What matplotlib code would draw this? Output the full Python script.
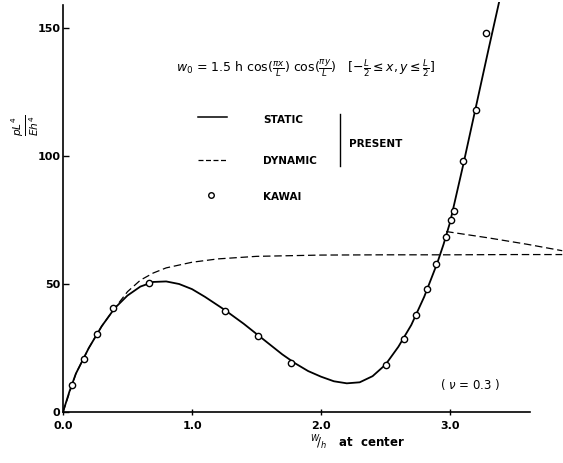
import matplotlib
matplotlib.use("Agg")
import matplotlib.pyplot as plt

# static solution (present)
static_x = [0.0, 0.05, 0.1, 0.2, 0.3, 0.4, 0.5, 0.6, 0.7, 0.8, 0.9, 1.0, 1.1, 1.25,
            1.4, 1.5, 1.6, 1.7, 1.8, 1.9, 2.0, 2.1, 2.2, 2.3, 2.4, 2.5, 2.6, 2.7,
            2.8, 2.9, 2.95, 3.0, 3.05, 3.1, 3.15, 3.2, 3.25, 3.3, 3.38]
static_y = [0.0, 8.0, 15.0, 25.0, 33.5, 40.5, 45.5, 49.0, 50.8, 51.0, 50.0, 48.0, 45.0, 40.0,
            34.5, 30.5, 26.5, 22.5, 19.0, 16.0, 13.8, 12.0, 11.2, 11.6, 14.0, 18.5, 25.5, 34.0,
            45.0, 58.0, 65.5, 74.0, 85.0, 96.0, 107.5, 119.0, 130.5, 142.0, 160.0]

# dynamic solution (present), main branch and upper branch
dyn_x = [0.0, 0.1, 0.2, 0.3, 0.4, 0.5, 0.6, 0.7, 0.8, 1.0, 1.2, 1.5, 2.0, 2.5, 3.0, 3.5, 3.87]
dyn_y = [0.0, 15.0, 25.0, 33.5, 40.5, 47.0, 51.5, 54.3, 56.3, 58.5, 59.8, 60.8, 61.3, 61.4, 61.4, 61.5, 61.5]
dyn2_x = [2.97, 3.3, 3.6, 3.87]
dyn2_y = [70.5, 68.0, 65.5, 63.0]

# Kawai results
kawai_x = [0.067, 0.163, 0.26, 0.385, 0.67, 1.256, 1.51, 1.77, 2.50, 2.64, 2.74,
           2.82, 2.89, 2.97, 3.01, 3.03, 3.10, 3.20, 3.28]
kawai_y = [10.5, 20.7, 30.5, 40.6, 50.5, 39.6, 29.7, 19.0, 18.4, 28.4, 37.9,
           48.0, 58.0, 68.5, 75.0, 78.6, 98.0, 118.0, 148.0]

xticks = [0.0, 1.0, 2.0, 3.0]
xtick_labels = ["0.0", "1.0", "2.0", "3.0"]
yticks = [0, 50, 100, 150]

plt.rcParams['mathtext.fontset'] = 'dejavusans'
W, H = 563, 463
fig = plt.figure(figsize=(W / 100, H / 100), dpi=100)


def px(x, y):
    # pixel position -> figure fraction
    return x / W, 1 - y / H


ax = fig.add_axes([63 / W, (H - 412) / H, 500 / W, 409.6 / H])
ax.set_xlim(0, 500 / 129)
ax.set_ylim(0, 160)

ax.plot(static_x, static_y, color='black', lw=1.3)
ax.plot(dyn_x, dyn_y, color='black', lw=0.9, dashes=(6, 3))
ax.plot(dyn2_x, dyn2_y, color='black', lw=0.9, dashes=(6, 3))
ax.plot(kawai_x, kawai_y, 'o', ms=4.5, mfc='white', mec='black', mew=1.0)

for s in ['top', 'right']:
    ax.spines[s].set_visible(False)
ax.spines['bottom'].set_bounds(0, 3.62)
ax.spines['left'].set_bounds(0, 159)
ax.spines['bottom'].set_linewidth(1.2)
ax.spines['left'].set_linewidth(1.2)

ax.set_xticks(xticks)
ax.set_xticklabels(xtick_labels, fontsize=8, fontweight='bold')
ax.set_yticks(yticks)
ax.set_yticklabels([str(v) for v in yticks], fontsize=8, fontweight='bold')
ax.tick_params(axis='x', direction='inout', length=5, width=1, pad=4)
ax.tick_params(axis='y', direction='in', length=4, width=1, pad=2)

# formula
fx, fy = px(176, 68)
fig.text(fx, fy, r'$w_0$ = 1.5 h cos($\frac{\pi x}{L}$) cos($\frac{\pi y}{L}$)   '
         r'[$-\frac{L}{2} \leq x, y \leq \frac{L}{2}$]',
         fontsize=9, va='center', ha='left')

# legend drawn by hand
lx0, ly = px(198, 117)
lx1, _ = px(227, 117)
fig.add_artist(plt.Line2D([lx0, lx1], [ly, ly], color='black', lw=1.1))
lx0, ly = px(198, 160)
lx1, _ = px(227, 160)
fig.add_artist(plt.Line2D([lx0, lx1], [ly, ly], color='black', lw=0.9, dashes=(4, 2)))
cx, cy = px(211, 195)
fig.add_artist(plt.Line2D([cx], [cy], marker='o', ms=4, mfc='white', mec='black', mew=1.0))

for label, ypx in [("STATIC", 120), ("DYNAMIC", 161), ("KAWAI", 197)]:
    tx, ty = px(263, ypx)
    fig.text(tx, ty, label, fontsize=7.5, fontweight='bold', va='center', ha='left')

bx, by0 = px(340, 114)
_, by1 = px(340, 166)
fig.add_artist(plt.Line2D([bx, bx], [by0, by1], color='black', lw=1.0))
tx, ty = px(349, 144)
fig.text(tx, ty, "PRESENT", fontsize=7.5, fontweight='bold', va='center', ha='left')

tx, ty = px(440, 385)
fig.text(tx, ty, r"( $\nu$ = 0.3 )", fontsize=8.5, va='center', ha='left')

# axis labels
tx, ty = px(310, 443)
fig.text(tx, ty, r"$^{W}\!/_{h}$   at  center", fontsize=8.5, fontweight='bold', va='center', ha='left')
tx, ty = px(25, 125)
fig.text(tx, ty, r"$\frac{pL^4}{Eh^4}$", fontsize=11, rotation=90, va='center', ha='center')

fig.savefig("out.png", dpi=100)
